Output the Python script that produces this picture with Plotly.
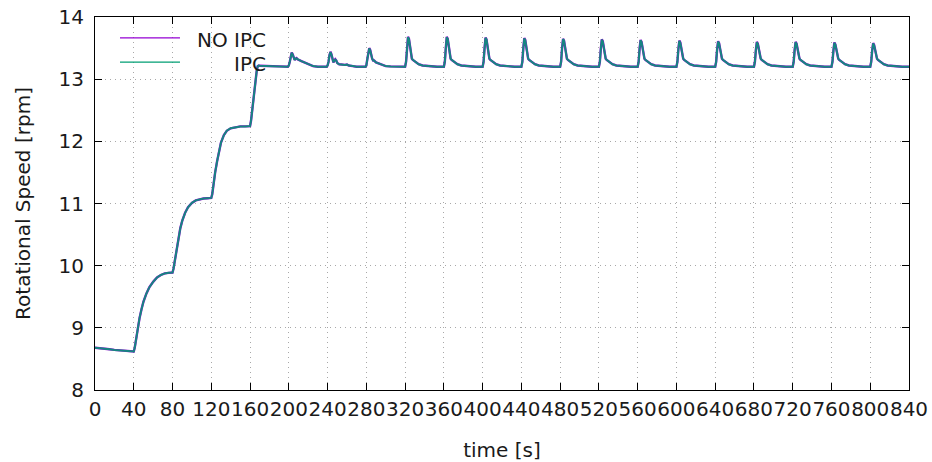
import plotly.graph_objects as go

# ---- data ----
time_s = [
    0, 5, 10, 15, 20, 25, 30, 35, 40,
    41, 42, 43, 44, 46, 48, 50, 53, 56, 60, 64, 68, 72, 76, 80,
    81, 82, 83, 84, 86, 88, 90, 93, 96, 100, 104, 108, 112, 116, 120,
    121, 122, 123, 124, 126, 128, 130, 133, 136, 140, 145, 150, 155, 160,
    161, 162, 163, 164, 165, 166, 167, 168, 169, 170, 175, 180, 190, 199,
    200, 201, 202, 203, 204, 205, 206, 207, 208, 209, 211, 213, 216, 219, 222, 225, 230, 239,
    240, 241, 242, 243, 244, 245, 246, 247, 248, 249, 250, 252, 255, 258, 260, 262, 266, 270, 279,
    280, 281, 282, 283, 284, 285, 286, 287, 288, 290, 293, 296, 300, 305, 315,
    320, 321, 322, 323, 324, 325, 326, 327, 328, 329, 331, 334, 338, 344, 353,
    360, 361, 362, 363, 364, 365, 366, 367, 368, 369, 371, 374, 378, 384, 393,
    400, 401, 402, 403, 404, 405, 406, 407, 408, 409, 411, 414, 418, 424, 433,
    440, 441, 442, 443, 444, 445, 446, 447, 448, 449, 451, 454, 458, 464, 473,
    480, 481, 482, 483, 484, 485, 486, 487, 488, 489, 491, 494, 498, 504, 513,
    520, 521, 522, 523, 524, 525, 526, 527, 528, 529, 531, 534, 538, 544, 553,
    560, 561, 562, 563, 564, 565, 566, 567, 568, 569, 571, 574, 578, 584, 593,
    600, 601, 602, 603, 604, 605, 606, 607, 608, 609, 611, 614, 618, 624, 633,
    640, 641, 642, 643, 644, 645, 646, 647, 648, 649, 651, 654, 658, 664, 673,
    680, 681, 682, 683, 684, 685, 686, 687, 688, 689, 691, 694, 698, 704, 713,
    720, 721, 722, 723, 724, 725, 726, 727, 728, 729, 731, 734, 738, 744, 753,
    760, 761, 762, 763, 764, 765, 766, 767, 768, 769, 771, 774, 778, 784, 793,
    800, 801, 802, 803, 804, 805, 806, 807, 808, 809, 811, 814, 818, 824, 833,
    840,
]

speed_no_ipc = [
    8.68, 8.675, 8.665, 8.655, 8.645, 8.64, 8.63, 8.625, 8.62,
    8.68, 8.78, 8.9, 9.0, 9.16, 9.3, 9.42, 9.55, 9.65, 9.74, 9.81, 9.85, 9.875, 9.885, 9.89,
    9.95, 10.05, 10.16, 10.26, 10.44, 10.6, 10.72, 10.85, 10.94, 11.01, 11.05, 11.07, 11.08, 11.085, 11.09,
    11.15, 11.28, 11.4, 11.5, 11.68, 11.85, 11.98, 12.1, 12.17, 12.21, 12.23, 12.24, 12.24, 12.245,
    12.33, 12.48, 12.62, 12.78, 12.93, 13.05, 13.15, 13.21, 13.22, 13.215, 13.21, 13.21, 13.205, 13.2,
    13.22, 13.28, 13.39, 13.43, 13.4, 13.34, 13.31, 13.33, 13.34, 13.32, 13.3, 13.29, 13.27, 13.25, 13.23, 13.21, 13.2, 13.2,
    13.22, 13.28, 13.39, 13.44, 13.4, 13.31, 13.27, 13.3, 13.32, 13.3, 13.26, 13.24, 13.23, 13.23, 13.235, 13.22, 13.21, 13.2, 13.2,
    13.22, 13.32, 13.45, 13.5, 13.47, 13.39, 13.33, 13.3, 13.3, 13.27, 13.25, 13.23, 13.21, 13.205, 13.2,
    13.2, 13.28, 13.5, 13.68, 13.65, 13.52, 13.4, 13.33, 13.31, 13.3, 13.27, 13.24, 13.22, 13.21, 13.2,
    13.2, 13.28, 13.5, 13.68, 13.65, 13.52, 13.4, 13.33, 13.31, 13.3, 13.27, 13.24, 13.22, 13.21, 13.2,
    13.2, 13.28, 13.5, 13.67, 13.64, 13.52, 13.4, 13.33, 13.31, 13.3, 13.27, 13.24, 13.22, 13.21, 13.2,
    13.2, 13.28, 13.5, 13.66, 13.63, 13.51, 13.4, 13.33, 13.31, 13.3, 13.27, 13.24, 13.22, 13.21, 13.2,
    13.2, 13.28, 13.5, 13.65, 13.62, 13.51, 13.4, 13.33, 13.31, 13.3, 13.27, 13.24, 13.22, 13.21, 13.2,
    13.2, 13.28, 13.49, 13.64, 13.61, 13.5, 13.39, 13.33, 13.31, 13.3, 13.27, 13.24, 13.22, 13.21, 13.2,
    13.2, 13.28, 13.49, 13.63, 13.6, 13.5, 13.39, 13.33, 13.31, 13.3, 13.27, 13.24, 13.22, 13.21, 13.2,
    13.2, 13.28, 13.48, 13.62, 13.59, 13.49, 13.39, 13.33, 13.31, 13.3, 13.27, 13.24, 13.22, 13.21, 13.2,
    13.2, 13.28, 13.48, 13.61, 13.58, 13.49, 13.39, 13.33, 13.31, 13.3, 13.27, 13.24, 13.22, 13.21, 13.2,
    13.2, 13.28, 13.47, 13.60, 13.57, 13.48, 13.38, 13.33, 13.31, 13.3, 13.27, 13.24, 13.22, 13.21, 13.2,
    13.2, 13.28, 13.47, 13.60, 13.57, 13.48, 13.38, 13.33, 13.31, 13.3, 13.27, 13.24, 13.22, 13.21, 13.2,
    13.2, 13.28, 13.46, 13.59, 13.56, 13.47, 13.38, 13.33, 13.31, 13.3, 13.27, 13.24, 13.22, 13.21, 13.2,
    13.2, 13.28, 13.46, 13.58, 13.55, 13.47, 13.38, 13.33, 13.31, 13.3, 13.27, 13.24, 13.22, 13.21, 13.2,
    13.2,
]

speed_ipc = [
    8.68, 8.675, 8.665, 8.655, 8.645, 8.64, 8.63, 8.625, 8.62,
    8.68, 8.78, 8.9, 9.0, 9.16, 9.3, 9.42, 9.55, 9.65, 9.74, 9.81, 9.85, 9.875, 9.885, 9.89,
    9.95, 10.05, 10.16, 10.26, 10.44, 10.6, 10.72, 10.85, 10.94, 11.01, 11.05, 11.07, 11.08, 11.085, 11.09,
    11.15, 11.28, 11.4, 11.5, 11.68, 11.85, 11.98, 12.1, 12.17, 12.21, 12.23, 12.24, 12.24, 12.245,
    12.33, 12.48, 12.62, 12.78, 12.93, 13.05, 13.15, 13.21, 13.22, 13.215, 13.21, 13.21, 13.205, 13.2,
    13.22, 13.28, 13.39, 13.425, 13.395, 13.34, 13.31, 13.33, 13.335, 13.32, 13.3, 13.29, 13.27, 13.25, 13.23, 13.21, 13.2, 13.2,
    13.22, 13.28, 13.39, 13.435, 13.395, 13.31, 13.27, 13.3, 13.315, 13.3, 13.26, 13.24, 13.23, 13.23, 13.235, 13.22, 13.21, 13.2, 13.2,
    13.22, 13.32, 13.45, 13.495, 13.465, 13.39, 13.33, 13.3, 13.3, 13.27, 13.25, 13.23, 13.21, 13.205, 13.2,
    13.2, 13.28, 13.5, 13.675, 13.645, 13.52, 13.4, 13.33, 13.31, 13.3, 13.27, 13.24, 13.22, 13.21, 13.2,
    13.2, 13.28, 13.5, 13.675, 13.645, 13.52, 13.4, 13.33, 13.31, 13.3, 13.27, 13.24, 13.22, 13.21, 13.2,
    13.2, 13.28, 13.5, 13.665, 13.635, 13.52, 13.4, 13.33, 13.31, 13.3, 13.27, 13.24, 13.22, 13.21, 13.2,
    13.2, 13.28, 13.5, 13.655, 13.625, 13.51, 13.4, 13.33, 13.31, 13.3, 13.27, 13.24, 13.22, 13.21, 13.2,
    13.2, 13.28, 13.5, 13.645, 13.615, 13.51, 13.4, 13.33, 13.31, 13.3, 13.27, 13.24, 13.22, 13.21, 13.2,
    13.2, 13.28, 13.49, 13.635, 13.605, 13.5, 13.39, 13.33, 13.31, 13.3, 13.27, 13.24, 13.22, 13.21, 13.2,
    13.2, 13.28, 13.49, 13.625, 13.595, 13.5, 13.39, 13.33, 13.31, 13.3, 13.27, 13.24, 13.22, 13.21, 13.2,
    13.2, 13.28, 13.48, 13.615, 13.585, 13.49, 13.39, 13.33, 13.31, 13.3, 13.27, 13.24, 13.22, 13.21, 13.2,
    13.2, 13.28, 13.48, 13.605, 13.575, 13.49, 13.39, 13.33, 13.31, 13.3, 13.27, 13.24, 13.22, 13.21, 13.2,
    13.2, 13.28, 13.47, 13.595, 13.565, 13.48, 13.38, 13.33, 13.31, 13.3, 13.27, 13.24, 13.22, 13.21, 13.2,
    13.2, 13.28, 13.47, 13.595, 13.565, 13.48, 13.38, 13.33, 13.31, 13.3, 13.27, 13.24, 13.22, 13.21, 13.2,
    13.2, 13.28, 13.46, 13.585, 13.555, 13.47, 13.38, 13.33, 13.31, 13.3, 13.27, 13.24, 13.22, 13.21, 13.2,
    13.2, 13.28, 13.46, 13.575, 13.545, 13.47, 13.38, 13.33, 13.31, 13.3, 13.27, 13.24, 13.22, 13.21, 13.2,
    13.2,
]

series_names = ["NO IPC", "IPC"]
series_colors = ["#9400d3", "#009e73"]
x_range = [0, 840]
y_range = [8, 14]

assert len(time_s) == len(speed_no_ipc) == len(speed_ipc)

FONT = "DejaVu Sans"
TXT = "#1a1a1a"
FS = 20

fig = go.Figure()
fig.add_trace(go.Scatter(x=time_s, y=speed_no_ipc, name=series_names[0], mode="lines",
                         line=dict(color=series_colors[0], width=2.4), showlegend=False))
fig.add_trace(go.Scatter(x=time_s, y=speed_ipc, name=series_names[1], mode="lines",
                         line=dict(color=series_colors[1], width=2.0), opacity=0.85,
                         showlegend=False))

axis_common = dict(
    showline=True, linecolor="#000000", linewidth=1, mirror="ticks",
    ticks="inside", ticklen=7, tickcolor="#000000", tickwidth=1,
    showgrid=True, gridcolor="#a8a8a8", griddash="1px,4px", gridwidth=1,
    zeroline=False, automargin=False, tickangle=0,
    tickfont=dict(family=FONT, size=FS, color=TXT),
)

fig.update_xaxes(range=x_range, tick0=0, dtick=40, ticklabelstandoff=1, **axis_common,
                 title=dict(text="time [s]", font=dict(family=FONT, size=FS, color=TXT), standoff=23))
fig.update_yaxes(range=y_range, tick0=8, dtick=1, ticklabelstandoff=6, **axis_common,
                 title=dict(text="Rotational Speed [rpm]", font=dict(family=FONT, size=FS, color=TXT), standoff=22))

# gnuplot-style key (sample line left, right-justified text)
key_rows = [(0.944, 0.937), (0.879, 0.873)]
for (ly, ty), name, col in zip(key_rows, series_names, series_colors):
    fig.add_shape(type="line", xref="paper", yref="paper", x0=0.0307, x1=0.1044, y0=ly, y1=ly,
                  line=dict(color=col, width=1.3))
    fig.add_annotation(xref="paper", yref="paper", x=0.2125, y=ty, text=name, showarrow=False,
                       xanchor="right", yanchor="middle",
                       font=dict(family=FONT, size=FS, color=TXT))

fig.update_layout(
    width=932, height=462,
    margin=dict(l=95, r=23, t=17, b=72),
    paper_bgcolor="white", plot_bgcolor="white",
    font=dict(family=FONT, size=FS, color=TXT),
)

fig.write_html("out.html")
